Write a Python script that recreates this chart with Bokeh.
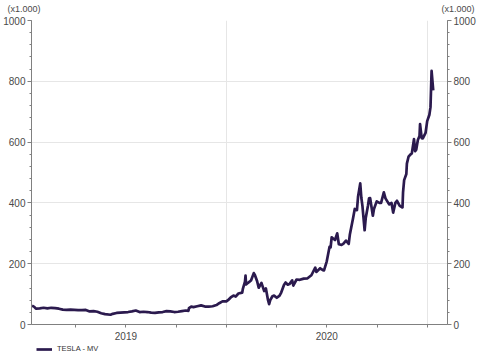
import pandas as pd
from bokeh.plotting import figure
from bokeh.layouts import column
from bokeh.models import (FixedTicker, SingleIntervalTicker, CustomJSTickFormatter, LinearAxis,
                          Label, Legend, LegendItem, ColumnDataSource, Range1d)
from bokeh.embed import file_html
from bokeh.resources import INLINE

series_name = "TESLA - MV"
unit_label = "(x1.000)"
x_start = "2019-01-10"
x_end = "2021-02-06"
y_max = 1000
y_step = 200

dates = [
    "2019-01-11", "2019-01-15", "2019-01-18", "2019-01-25", "2019-02-01", "2019-02-08", "2019-02-15",
    "2019-02-22", "2019-03-01", "2019-03-08", "2019-03-15", "2019-03-22", "2019-03-29", "2019-04-05",
    "2019-04-12", "2019-04-19", "2019-04-26", "2019-05-03", "2019-05-10", "2019-05-17", "2019-05-24",
    "2019-06-03", "2019-06-07", "2019-06-14", "2019-06-21", "2019-06-28", "2019-07-05", "2019-07-12",
    "2019-07-19", "2019-07-26", "2019-08-02", "2019-08-09", "2019-08-16", "2019-08-23", "2019-08-30",
    "2019-09-06", "2019-09-13", "2019-09-20", "2019-09-27", "2019-10-04", "2019-10-11", "2019-10-18",
    "2019-10-23", "2019-10-24", "2019-10-28", "2019-11-01", "2019-11-08", "2019-11-15", "2019-11-22",
    "2019-11-29", "2019-12-06", "2019-12-13", "2019-12-18", "2019-12-24", "2019-12-31",
    "2020-01-03", "2020-01-08", "2020-01-13", "2020-01-17", "2020-01-22", "2020-01-29", "2020-01-30",
    "2020-02-03", "2020-02-04", "2020-02-05", "2020-02-07", "2020-02-12", "2020-02-14", "2020-02-19",
    "2020-02-21", "2020-02-25", "2020-02-28", "2020-03-04", "2020-03-09", "2020-03-12", "2020-03-16",
    "2020-03-18", "2020-03-20", "2020-03-24", "2020-03-27", "2020-04-01", "2020-04-06", "2020-04-09",
    "2020-04-14", "2020-04-17", "2020-04-21", "2020-04-24", "2020-04-29", "2020-05-01", "2020-05-07",
    "2020-05-13", "2020-05-20", "2020-05-27", "2020-06-03", "2020-06-10", "2020-06-12", "2020-06-19",
    "2020-06-24", "2020-06-26", "2020-07-01", "2020-07-06", "2020-07-08", "2020-07-10", "2020-07-13",
    "2020-07-16", "2020-07-20", "2020-07-23", "2020-07-28", "2020-07-31", "2020-08-05", "2020-08-10",
    "2020-08-12", "2020-08-18", "2020-08-21", "2020-08-25", "2020-08-27", "2020-08-31", "2020-09-02",
    "2020-09-04", "2020-09-08", "2020-09-10", "2020-09-14", "2020-09-16", "2020-09-18", "2020-09-23",
    "2020-09-25", "2020-09-30", "2020-10-05", "2020-10-08", "2020-10-13", "2020-10-16", "2020-10-21",
    "2020-10-23", "2020-10-27", "2020-10-30", "2020-11-03", "2020-11-06", "2020-11-11", "2020-11-16",
    "2020-11-17", "2020-11-19", "2020-11-23", "2020-11-24", "2020-11-27", "2020-12-01", "2020-12-03",
    "2020-12-07", "2020-12-09", "2020-12-11", "2020-12-14", "2020-12-17", "2020-12-18", "2020-12-21",
    "2020-12-23", "2020-12-28", "2020-12-31", "2021-01-04", "2021-01-06", "2021-01-07", "2021-01-08",
    "2021-01-11",
]

market_value = [
    62, 58, 52, 53, 55, 53, 55,
    54, 52, 49, 48, 49, 48, 47,
    47, 48, 43, 44, 42, 37, 34,
    32, 35, 38, 39, 40, 41, 43,
    46, 41, 42, 41, 39, 38, 40,
    41, 44, 43, 41, 42, 44, 46,
    45, 54, 59, 57, 60, 63, 59,
    59, 60, 64, 70, 76, 76,
    80, 89, 95, 92, 102, 105, 116,
    141, 161, 132, 135, 142, 145, 169,
    163, 143, 121, 137, 110, 119, 80,
    67, 80, 93, 95, 88, 95, 105,
    130, 138, 131, 133, 145, 128, 148,
    147, 151, 152, 162, 187, 173, 185,
    179, 178, 208, 255, 254, 287, 282,
    278, 300, 264, 262, 265, 276, 265,
    295, 350, 380, 376, 420, 464, 417,
    390, 310, 350, 390, 415, 416, 358,
    380, 405, 400, 400, 435, 415, 400,
    395, 400, 368, 400, 407, 390, 385,
    435, 475, 495, 529, 552, 560, 563,
    610, 570, 575, 607, 620, 659, 613,
    612, 630, 669, 690, 715, 774, 834,
    770,
]

FONT = "Liberation Sans"
LINE = "#2b1a4e"
LINE_W = 2.7
AXIS = "#808080"
TXT = "#4a4a4a"
GRID = "#e6e6e6"
W = 478
TOP_H = 14
MAIN_H = 330
BOT_H = 10


def no_align(f):
    if "frame_align" in f.properties():
        f.frame_align = False
    return f


def strip(h):
    f = figure(width=W, height=h, output_backend="svg", toolbar_location=None,
               x_axis_location=None, y_axis_location=None,
               x_range=Range1d(0, W), y_range=Range1d(0, h),
               min_border=0, outline_line_color=None)
    f.grid.visible = False
    f.background_fill_color = "white"
    f.border_fill_color = "white"
    return no_align(f)


src = ColumnDataSource(dict(date=pd.to_datetime(dates), value=market_value))

# ---- top strip: unit labels above both value axes
top = strip(TOP_H)
top.add_layout(Label(x=7, y=TOP_H - 8, text=unit_label, text_align="left", text_baseline="middle",
                     text_font=FONT, text_font_size="9px", text_color=TXT))
top.add_layout(Label(x=W - 4, y=TOP_H - 8, text=unit_label, text_align="right", text_baseline="middle",
                     text_font=FONT, text_font_size="9px", text_color=TXT))

# ---- main chart
xs = pd.Timestamp(x_start)
xe = pd.Timestamp(x_end)

p = figure(width=W, height=MAIN_H, x_axis_type="datetime", output_backend="svg",
           toolbar_location=None, x_range=(xs, xe), y_range=(0, y_max),
           min_border_left=0, min_border_right=0, min_border_top=6, min_border_bottom=20)
no_align(p)
p.outline_line_color = None
p.background_fill_color = "white"
p.border_fill_color = "white"

p.line("date", "value", source=src, line_color=LINE, line_width=LINE_W, line_join="round")

quarters = pd.date_range("2019-01-01", "2021-01-01", freq="QS")
q_ms = [t.value / 1e6 for t in quarters]
year_starts = [t.value / 1e6 for t in pd.date_range("2020-01-01", "2021-01-01", freq="YS")]
xa = p.xaxis[0]
xa.ticker = FixedTicker(ticks=q_ms, minor_ticks=[])
xa.formatter = CustomJSTickFormatter(code="""
const d = new Date(tick);
return d.getUTCMonth() == 6 ? String(d.getUTCFullYear()) : "";
""")
xa.axis_line_color = AXIS
xa.major_tick_line_color = AXIS
xa.major_tick_out = 3
xa.major_tick_in = 0
xa.major_label_standoff = 4
xa.major_label_text_font = FONT
xa.major_label_text_font_size = "10px"
xa.major_label_text_color = TXT

p.xgrid.ticker = FixedTicker(ticks=year_starts)
p.xgrid.grid_line_color = GRID

yticker = SingleIntervalTicker(interval=y_step, num_minor_ticks=5)
p.yaxis[0].ticker = yticker
p.ygrid.ticker = yticker
p.ygrid.grid_line_color = GRID

p.add_layout(LinearAxis(ticker=yticker), "right")
for ax in p.yaxis:
    ax.axis_line_color = AXIS
    ax.major_tick_line_color = AXIS
    ax.minor_tick_line_color = AXIS
    ax.major_tick_out = 4
    ax.major_tick_in = 0
    ax.minor_tick_out = 2
    ax.minor_tick_in = 0
    ax.major_label_standoff = 2
    ax.major_label_text_font = FONT
    ax.major_label_text_font_size = "10px"
    ax.major_label_text_color = TXT

# ---- bottom strip: legend (series drawn off-view; only its legend key shows)
bot = strip(BOT_H)
key = bot.line("date", "value", source=src, line_color=LINE, line_width=LINE_W)
bot.add_layout(Legend(items=[LegendItem(label=series_name, renderers=[key])],
                      location=(36, 1), orientation="horizontal",
                      border_line_color=None, background_fill_alpha=0,
                      label_text_font=FONT, label_text_font_size="7.5px", label_text_color="#333333",
                      glyph_width=16, glyph_height=8, label_height=8, label_standoff=5,
                      padding=0, margin=0, spacing=0))

layout = column(top, p, bot, spacing=0)
open("out.html", "w").write(file_html(layout, INLINE))
